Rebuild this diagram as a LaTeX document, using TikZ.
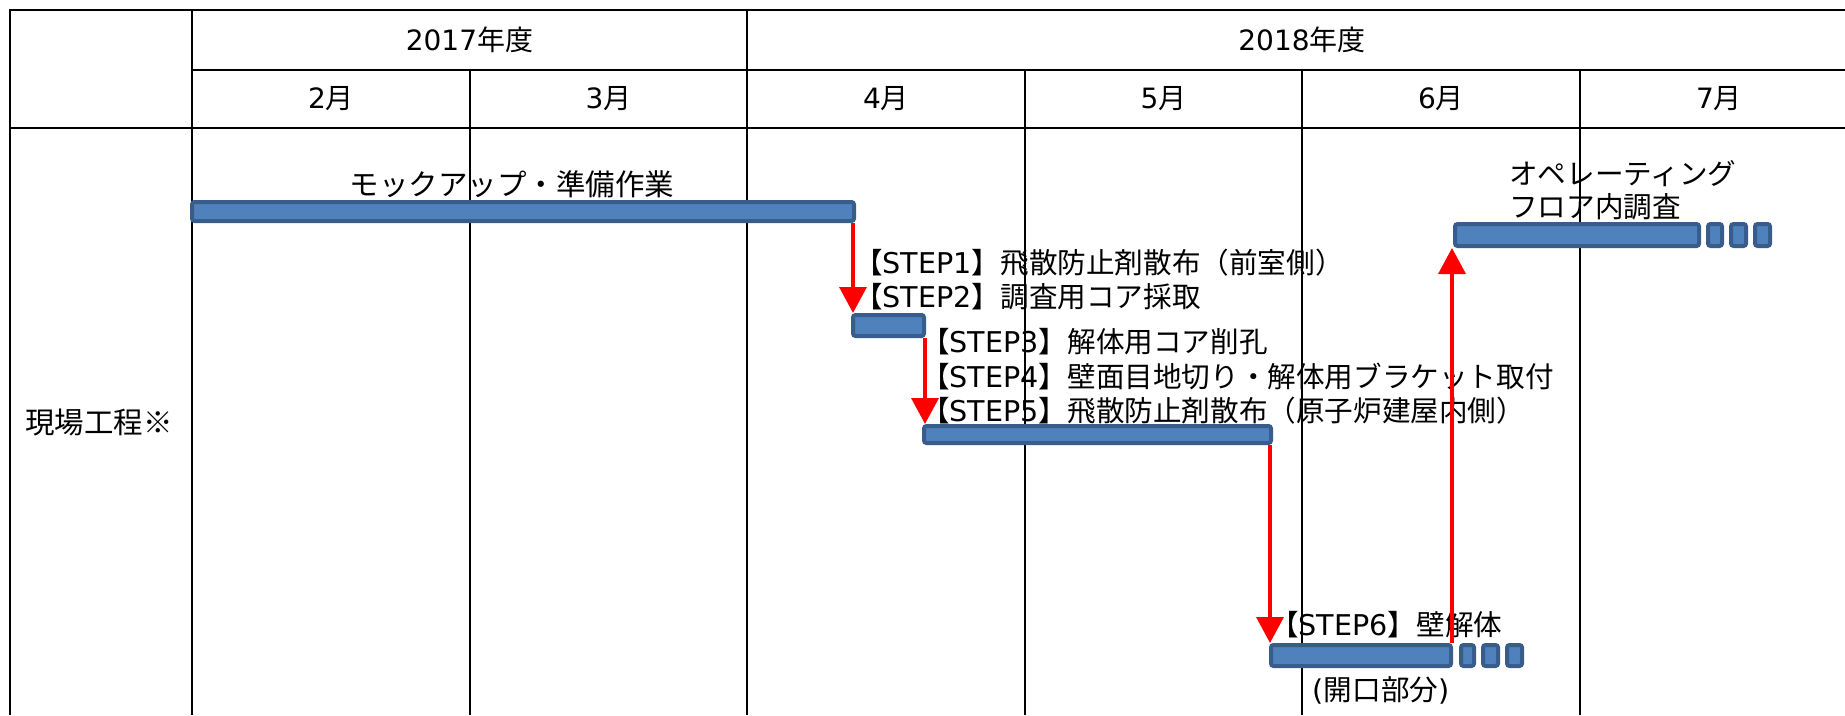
\documentclass[tikz,border=0pt]{standalone}
\usepackage{fontspec}
\setmainfont{Noto Sans CJK JP}
\newfontfamily\latn{DejaVu Sans}
\usetikzlibrary{arrows.meta}
\definecolor{barfill}{RGB}{79,129,189}
\definecolor{barline}{RGB}{56,93,138}
\begin{document}
\begin{tikzpicture}[x=1pt,y=-1pt,
  grid/.style={line width=2pt, black},
  bar/.style={draw=barline, fill=barfill, line width=4pt, rounded corners=2.5pt, inner sep=0pt, outer sep=2pt},
  lbl/.style={font=\fontsize{28.6}{33}\selectfont, inner sep=0pt},
  big/.style={font=\fontsize{29.5}{34}\selectfont, inner sep=0pt},
  hdr/.style={font=\fontsize{28}{33}\selectfont, inner sep=0pt},
  flow/.style={red, line width=3.5pt, -{Triangle[width=27pt,length=26pt]}},
]
\useasboundingbox (0,0) rectangle (1845,715);
% table grid
\draw[grid] (1845,10) -- (10,10) -- (10,715);
\draw[grid] (192,70) -- (1845,70);
\draw[grid] (10,128) -- (1845,128);
\draw[grid] (192,10) -- (192,715);
\draw[grid] (747,10) -- (747,715);
\foreach \x in {470,1025,1302,1580} \draw[grid] (\x,70) -- (\x,715);
% headers
\node[hdr] (y17) at (469.5,40) {{\latn 2017}年度};
\node[hdr] (y18) at (1302,40) {{\latn 2018}年度};
\node[hdr] (m2) at (331,99) {{\latn 2}月};
\node[hdr] (m3) at (608.5,99) {{\latn 3}月};
\node[hdr] (m4) at (886,99) {{\latn 4}月};
\node[hdr] (m5) at (1163.5,99) {{\latn 5}月};
\node[hdr] (m6) at (1441,99) {{\latn 6}月};
\node[hdr] (m7) at (1719,99) {{\latn 7}月};
\node[big] (row) at (99,422) {現場工程※};
% bars
\node[bar, minimum width=662pt, minimum height=19pt] (mock) at (523,211.5) {};
\node[bar, minimum width=71pt, minimum height=21pt] (s12) at (888.5,325.5) {};
\node[bar, minimum width=347pt, minimum height=17pt] (s35) at (1097.5,434.5) {};
\node[bar, minimum width=180pt, minimum height=21pt] (s6) at (1361,655.5) {};
\node[bar, minimum width=13pt, minimum height=21pt] (s6a) at (1467.5,655.5) {};
\node[bar, minimum width=15pt, minimum height=21pt] (s6b) at (1490.5,655.5) {};
\node[bar, minimum width=15pt, minimum height=21pt] (s6c) at (1514.5,655.5) {};
\node[bar, minimum width=244pt, minimum height=22pt] (op) at (1577,235) {};
\node[bar, minimum width=14pt, minimum height=22pt] (opa) at (1715,235) {};
\node[bar, minimum width=15pt, minimum height=22pt] (opb) at (1738.5,235) {};
\node[bar, minimum width=15pt, minimum height=22pt] (opc) at (1762.5,235) {};
% labels
\node[big] (tmock) at (512,184) {モックアップ・準備作業};
\node[lbl, anchor=west] (t1) at (854,263) {【{\latn STEP1}】飛散防止剤散布（前室側）};
\node[lbl, anchor=west] (t2) at (854,297) {【{\latn STEP2}】調査用コア採取};
\node[lbl, anchor=west] (t3) at (921,342) {【{\latn STEP3}】解体用コア削孔};
\node[lbl, anchor=west] (t4) at (921,376) {【{\latn STEP4}】壁面目地切り・解体用ブラケット取付};
\node[lbl, anchor=west] (t5) at (921,411) {【{\latn STEP5}】飛散防止剤散布（原子炉建屋内側）};
\node[lbl, anchor=west] (t6) at (1270,625) {【{\latn STEP6}】壁解体};
\node[lbl] (t6b) at (1381,690) {{\latn (}開口部分{\latn )}};
\node[lbl, anchor=west, align=left] (top) at (1509,190) {オペレーティング\\フロア内調査};
% arrows
\draw[flow] ([xshift=-3pt]mock.south east) -- ([xshift=2pt]s12.north west);
\draw[flow] ([xshift=-1pt]s12.south east) -- ([xshift=3pt]s35.north west);
\draw[flow] ([xshift=-3pt]s35.south east) -- ([xshift=1pt]s6.north west);
\draw[flow] ([xshift=-1pt]s6.north east) -- ([xshift=-1pt]op.south west);
\end{tikzpicture}
\end{document}
